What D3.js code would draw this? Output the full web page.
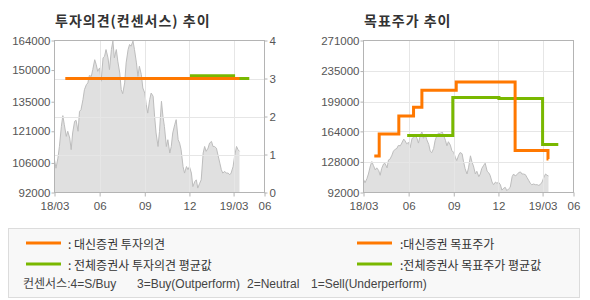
<!DOCTYPE html>
<html>
<head>
<meta charset="utf-8">
<script src="https://cdn.jsdelivr.net/npm/d3@7"></script>
<style>
body { margin: 0; background: #fff; }
svg text { font-family: "Liberation Sans", "Noto Sans CJK KR", sans-serif; }
</style>
</head>
<body>
<div id="chart"></div>
<script>
// x axis
var xTickDates = ["2018-03-01", "2018-06-01", "2018-09-01", "2018-12-01", "2019-03-01", "2019-05-03"];
var xTickLabels = ["18/03", "06", "09", "12", "19/03", "06"];

// y axes
var opinionPriceTicks = [92000, 106000, 121000, 135000, 150000, 164000];
var opinionTicks = [0, 1, 2, 3, 4];
var targetPriceTicks = [92000, 128000, 164000, 199000, 235000, 271000];

// stock price (grey area)
var priceDates = [
  "2018-03-01","2018-03-04","2018-03-08","2018-03-11","2018-03-15","2018-03-18","2018-03-21","2018-03-25",
  "2018-03-28","2018-04-01","2018-04-04","2018-04-07","2018-04-11","2018-04-14","2018-04-18","2018-04-21",
  "2018-04-24","2018-04-28","2018-05-01","2018-05-05","2018-05-08","2018-05-11","2018-05-15","2018-05-18",
  "2018-05-22","2018-05-25","2018-05-28","2018-06-01","2018-06-04","2018-06-08","2018-06-11","2018-06-14",
  "2018-06-18","2018-06-21","2018-06-25","2018-06-28","2018-07-01","2018-07-05","2018-07-08","2018-07-12",
  "2018-07-15","2018-07-18","2018-07-22","2018-07-25","2018-07-29","2018-08-01","2018-08-04","2018-08-08",
  "2018-08-11","2018-08-15","2018-08-18","2018-08-21","2018-08-25","2018-08-28","2018-09-01","2018-09-04",
  "2018-09-07","2018-09-11","2018-09-14","2018-09-18","2018-09-21","2018-09-24","2018-09-28","2018-10-01",
  "2018-10-05","2018-10-08","2018-10-11","2018-10-15","2018-10-18","2018-10-22","2018-10-25","2018-10-28",
  "2018-11-01","2018-11-04","2018-11-08","2018-11-11","2018-11-14","2018-11-18","2018-11-21","2018-11-25",
  "2018-11-28","2018-12-01","2018-12-05","2018-12-08","2018-12-12","2018-12-15","2018-12-18","2018-12-22",
  "2018-12-25","2018-12-29","2019-01-01","2019-01-04","2019-01-08","2019-01-11","2019-01-15","2019-01-18",
  "2019-01-21","2019-01-25","2019-01-28","2019-02-01","2019-02-04","2019-02-07","2019-02-11","2019-02-14",
  "2019-02-18","2019-02-21","2019-02-24","2019-02-28","2019-03-03","2019-03-07","2019-03-10","2019-03-13"
];
var prices = [
  107500,103500,108300,113800,123300,128400,124100,118600,
  121000,117800,112300,120200,125700,126200,121000,130400,
  131200,136000,140700,143100,143900,147400,147000,150200,
  154900,152600,149400,151000,144700,155800,156500,159700,
  155800,150200,159700,163700,155800,159700,154200,148600,
  140700,138800,143900,153400,159700,162100,161300,163700,
  159700,153400,147000,151800,147800,141500,139100,133600,
  129600,136000,139100,137600,128100,120200,113800,121000,
  135200,128100,123300,113800,117000,110700,113800,120200,
  124100,126500,117000,115400,112300,104300,101200,104300,
  102800,104300,101200,94800,97200,98000,94100,96400,
  98000,110700,113800,111500,113000,115400,116200,113800,
  113800,113000,109900,105900,102800,101200,102000,101200,
  101200,100400,101200,104300,109100,113800,112300,111500
];

// 투자의견
var opinionDates = ["2018-03-23", "2019-03-13"];
var opinionValues = [3, 3];
var avgOpinionDates = ["2018-12-02", "2019-03-01", "2019-04-02"];
var avgOpinionValues = [3.07, 3, 3];

// 목표주가
var targetDates = ["2018-03-23", "2018-04-02", "2018-05-12", "2018-06-11", "2018-06-28", "2018-09-06", "2019-01-04", "2019-03-12", "2019-03-13"];
var targetValues = [135000, 161000, 182000, 192500, 212500, 222000, 141500, 131500, 131500];
var avgTargetDates = ["2018-05-29", "2018-08-30", "2018-12-02", "2019-03-01", "2019-04-02"];
var avgTargetValues = [159000, 204000, 202700, 148500, 148500];

var legendLabels = [": 대신증권 투자의견", ": 전체증권사 투자의견 평균값", ":대신증권 목표주가", ":전체증권사 목표주가 평균값"];
var consensusNotes = ["컨센서스:4=S/Buy", "3=Buy(Outperform)", "2=Neutral", "1=Sell(Underperform)"];

var ORANGE = "#ff7800", GREEN = "#79b800";

var parse = d3.timeParse("%Y-%m-%d");
var zip = function(dates, vals) { return dates.map(function(d, i) { return {date: parse(d), value: vals[i]}; }); };
var priceData = zip(priceDates, prices);

var svg = d3.select("#chart").append("svg")
  .attr("width", 590)
  .attr("height", 300);

var plotTop = 40.5, plotBottom = 192.5;

function drawPanel(left, right, title, yTicks, lines, rightTicks) {
  var g = svg.append("g");
  var x = d3.scaleTime()
    .domain([parse(xTickDates[0]), parse(xTickDates[xTickDates.length - 1])])
    .range([left, right]);
  var y = d3.scaleLinear()
    .domain([yTicks[0], yTicks[yTicks.length - 1]])
    .range([plotBottom, plotTop]);
  var y2 = rightTicks ? d3.scaleLinear().domain([0, 4]).range([plotBottom, plotTop]) : null;

  g.append("text")
    .attr("x", left + 0.5)
    .attr("y", 26)
    .attr("fill", "#333")
    .style("font-family", "'Noto Sans CJK KR', sans-serif")
    .style("font-size", "14px")
    .style("font-weight", "bold")
    .style("letter-spacing", "1px")
    .text(title);

  // price area
  g.append("path")
    .datum(priceData)
    .attr("fill", "#e0e0e0")
    .attr("d", d3.area().x(function(d) { return x(d.date); }).y0(plotBottom).y1(function(d) { return y(d.value); }));
  g.append("path")
    .datum(priceData)
    .attr("fill", "none")
    .attr("stroke", "#bdbdbd")
    .attr("stroke-width", 1)
    .attr("d", d3.line().x(function(d) { return x(d.date); }).y(function(d) { return y(d.value); }));

  // grid
  var gridY = rightTicks ? rightTicks.map(y2) : yTicks.map(y);
  g.selectAll(".gy").data(gridY.slice(1, -1)).enter().append("line")
    .attr("x1", left).attr("x2", right)
    .attr("y1", function(d) { return Math.round(d) + 0.5; })
    .attr("y2", function(d) { return Math.round(d) + 0.5; })
    .attr("stroke", "#e6e6e6");
  g.selectAll(".gx").data(xTickDates.slice(1, -1)).enter().append("line")
    .attr("x1", function(d) { return Math.round(x(parse(d))) + 0.5; })
    .attr("x2", function(d) { return Math.round(x(parse(d))) + 0.5; })
    .attr("y1", plotTop).attr("y2", plotBottom)
    .attr("stroke", "#e6e6e6");

  g.append("rect")
    .attr("x", left).attr("y", plotTop)
    .attr("width", right - left).attr("height", plotBottom - plotTop)
    .attr("fill", "none")
    .attr("stroke", "#b4b4b4");

  // step lines
  lines.forEach(function(l) {
    var sy = l.right ? y2 : y;
    g.append("path")
      .datum(zip(l.dates, l.values))
      .attr("fill", "none")
      .attr("stroke", l.color)
      .attr("stroke-width", 3)
      .attr("d", d3.line().curve(d3.curveStepAfter)
        .x(function(d) { return x(d.date); })
        .y(function(d) { return sy(d.value); }));
  });

  // axes
  var ax = g.append("g").attr("transform", "translate(" + left + ",0)")
    .call(d3.axisLeft(y).tickValues(yTicks).tickSize(3).tickPadding(1).tickFormat(d3.format("d")));
  var bx = g.append("g").attr("transform", "translate(0," + plotBottom + ")")
    .call(d3.axisBottom(x).tickValues(xTickDates.map(parse)).tickSize(4).tickPadding(5)
      .tickFormat(function(d, i) { return xTickLabels[i]; }));
  var axes = [ax, bx];
  if (rightTicks) {
    axes.push(g.append("g").attr("transform", "translate(" + right + ",0)")
      .call(d3.axisRight(y2).tickValues(rightTicks).tickSize(3).tickPadding(2).tickFormat(d3.format("d"))));
  }
  axes.forEach(function(a) {
    a.select(".domain").remove();
    a.selectAll("line").attr("stroke", "#b4b4b4");
    a.selectAll("text").attr("fill", "#555").style("font-size", "11.5px")
      .style("font-family", "'Liberation Sans', sans-serif");
  });
}

drawPanel(54.5, 264.5, "투자의견(컨센서스) 추이", opinionPriceTicks, [
  {dates: avgOpinionDates, values: avgOpinionValues, color: GREEN, right: true},
  {dates: opinionDates, values: opinionValues, color: ORANGE, right: true}
], opinionTicks);

drawPanel(363.5, 573.5, "목표주가 추이", targetPriceTicks, [
  {dates: avgTargetDates, values: avgTargetValues, color: GREEN},
  {dates: targetDates, values: targetValues, color: ORANGE}
]);

// legend
var legend = svg.append("g");
legend.append("rect")
  .attr("x", 8.5).attr("y", 228.5)
  .attr("width", 571).attr("height", 69)
  .attr("fill", "#f8f8f8")
  .attr("stroke", "#dcdcdc");

var legendItems = legend.selectAll(".item")
  .data(legendLabels)
  .enter().append("g")
  .attr("transform", function(d, i) {
    return "translate(" + (i < 2 ? 26 : 357) + "," + (i % 2 ? 264 : 243) + ")";
  });
legendItems.append("line")
  .attr("x1", 0).attr("x2", 35)
  .attr("stroke", function(d, i) { return i % 2 ? GREEN : ORANGE; })
  .attr("stroke-width", 3);
legendItems.append("text")
  .attr("x", function(d, i) { return i < 2 ? 42 : 43; })
  .attr("y", 5.5)
  .attr("fill", "#333")
  .style("font-family", "'Noto Sans CJK KR', sans-serif")
  .style("font-size", "12px")
  .text(function(d) { return d; });

var noteX = [23, 137, 247, 311];
legend.append("text")
  .attr("y", 288)
  .attr("fill", "#444")
  .style("font-size", "12px")
  .selectAll("tspan")
  .data(consensusNotes)
  .enter().append("tspan")
  .attr("x", function(d, i) { return noteX[i]; })
  .text(function(d) { return d; });
</script>
</body>
</html>
